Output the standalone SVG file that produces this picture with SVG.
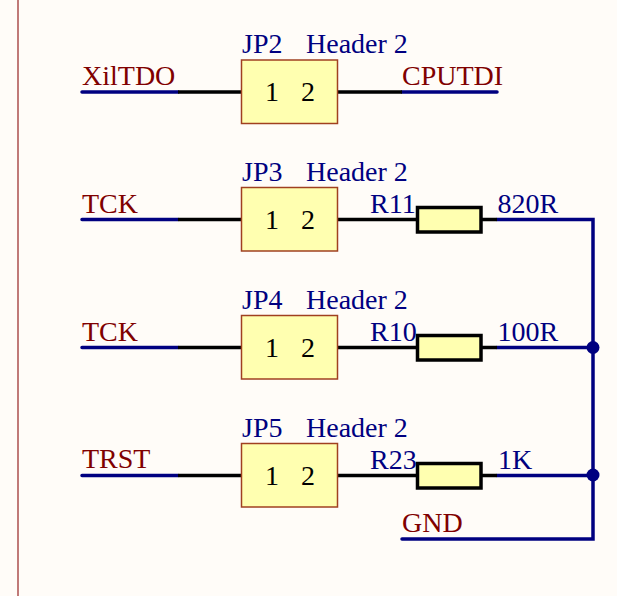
<svg xmlns="http://www.w3.org/2000/svg" width="617" height="596" viewBox="0 0 617 596">
<style>
text{font-family:"Liberation Serif","Times New Roman",serif;font-size:28px}
.b{fill:#000080}.r{fill:#800000}.k{fill:#000}
.hdr{fill:#ffffb0;stroke:#a04020;stroke-width:1.500}
.res{fill:#ffffb0;stroke:#000;stroke-width:3.500}
.w{fill:none;stroke:#000080;stroke-width:3.500;stroke-linecap:round}
.p{fill:none;stroke:#000;stroke-width:3.500}
</style>
<rect width="617" height="596" fill="#fffcf8"/>
<line x1="18" y1="0" x2="18" y2="596" stroke="#c07a78" stroke-width="2"/>
<g id="connectors">
<path class="w" d="M82 92H178M402 92H497M82 219.500H178M82 347.500H178M82 475.500H178M497 219.500H593V539H402M497 347.500H593M497 475.500H593"/>
<path class="p" d="M178 92H242M337 92H402M178 219.500H242M337 219.500H417M481 219.500H497M178 347.500H242M337 347.500H417M481 347.500H497M178 475.500H242M337 475.500H417M481 475.500H497"/>
<circle cx="593" cy="347.500" r="6.500" fill="#000080"/>
<circle cx="593" cy="475" r="6.500" fill="#000080"/>
</g>
<g id="JP2"><rect class="hdr" x="241.500" y="60" width="96" height="63.500"/><text class="b" x="242" y="53">JP2</text><text class="b" x="306" y="53">Header 2</text><text class="k" x="265" y="101">1</text><text class="k" x="301" y="101">2</text></g>
<g id="JP3"><rect class="hdr" x="241.500" y="187.500" width="96" height="63.500"/><text class="b" x="242" y="181">JP3</text><text class="b" x="306" y="181">Header 2</text><text class="k" x="265" y="229">1</text><text class="k" x="301" y="229">2</text></g>
<g id="JP4"><rect class="hdr" x="241.500" y="315.500" width="96" height="63.500"/><text class="b" x="242" y="309">JP4</text><text class="b" x="306" y="309">Header 2</text><text class="k" x="265" y="357">1</text><text class="k" x="301" y="357">2</text></g>
<g id="JP5"><rect class="hdr" x="241.500" y="443.500" width="96" height="63.500"/><text class="b" x="242" y="437">JP5</text><text class="b" x="306" y="437">Header 2</text><text class="k" x="265" y="485">1</text><text class="k" x="301" y="485">2</text></g>
<g id="R11"><rect class="res" x="417.500" y="207.500" width="63.500" height="24.500"/><text class="b" x="370" y="213">R11</text><text class="b" x="497.500" y="213">820R</text></g>
<g id="R10"><rect class="res" x="417.500" y="335.500" width="63.500" height="24.500"/><text class="b" x="370" y="341">R10</text><text class="b" x="497.500" y="341">100R</text></g>
<g id="R23"><rect class="res" x="417.500" y="463.500" width="63.500" height="24.500"/><text class="b" x="370" y="469">R23</text><text class="b" x="498" y="469">1K</text></g>
<g id="labels">
<text class="r" x="82" y="85">XilTDO</text>
<text class="r" x="402" y="85">CPUTDI</text>
<text class="r" x="82" y="213">TCK</text>
<text class="r" x="82" y="341">TCK</text>
<text class="r" x="82" y="468">TRST</text>
<text class="r" x="402" y="532">GND</text>
</g>
</svg>
